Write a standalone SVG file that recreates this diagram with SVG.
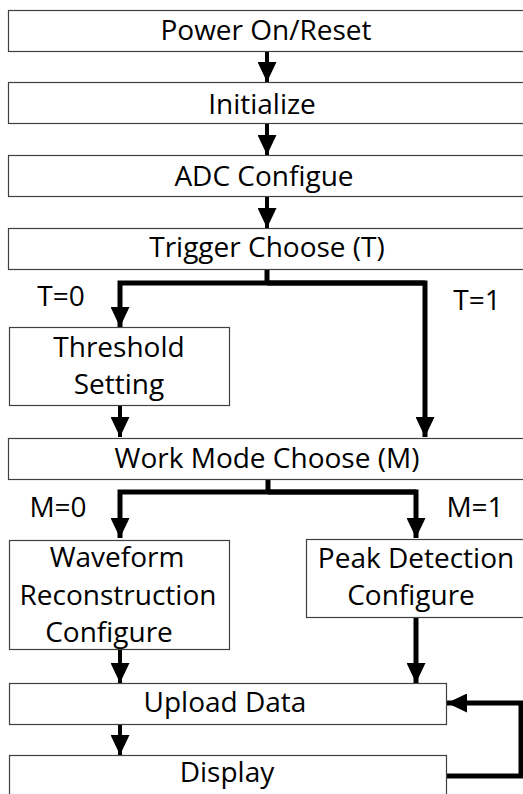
<svg xmlns="http://www.w3.org/2000/svg" width="523" height="794" viewBox="0 0 523 794">
<style>
.box{fill:#fff;stroke:#404040;stroke-width:1.2}
.t{font-family:"Open Sans","Noto Sans",sans-serif;font-size:28px;fill:#000;text-anchor:middle}
.c{stroke:#000;stroke-width:4;fill:none}
.ct{stroke:#000;stroke-width:5;fill:none}
</style>
<defs>
<marker id="ah" viewBox="0 0 20 19" refX="20" refY="9.5" markerWidth="20" markerHeight="19" markerUnits="userSpaceOnUse" orient="auto">
<path d="M0,0 L20,9.5 L0,19 Z" fill="#000"/>
</marker>
</defs>
<rect width="523" height="794" fill="#fff"/>
<g id="connectors">
<line class="c" x1="267" y1="51" x2="267" y2="82" marker-end="url(#ah)"/>
<line class="c" x1="267" y1="123" x2="267" y2="155" marker-end="url(#ah)"/>
<line class="c" x1="267" y1="196" x2="267" y2="228" marker-end="url(#ah)"/>
<polyline class="ct" points="267,269 267,283"/>
<polyline class="ct" points="425,283 120,283 120,327" marker-end="url(#ah)"/>
<polyline class="ct" points="267,283 425,283 425,437" marker-end="url(#ah)"/>
<line class="c" x1="120" y1="405" x2="120" y2="437" marker-end="url(#ah)"/>
<polyline class="ct" points="268,479 268,492"/>
<polyline class="ct" points="416,492 120,492 120,538" marker-end="url(#ah)"/>
<polyline class="ct" points="268,492 416,492 416,538" marker-end="url(#ah)"/>
<line class="c" x1="120" y1="650" x2="120" y2="683" marker-end="url(#ah)"/>
<line class="ct" x1="416" y1="617" x2="416" y2="683" marker-end="url(#ah)"/>
<line class="c" x1="120" y1="724" x2="120" y2="755" marker-end="url(#ah)"/>
<polyline class="ct" points="446,776 521,776 521,703 447,703" marker-end="url(#ah)"/>
</g>
<g id="power"><rect class="box" x="8.5" y="10.5" width="530" height="41"/><text class="t" x="266" y="40">Power On/Reset</text></g>
<g id="init"><rect class="box" x="8.5" y="82.5" width="530" height="41"/><text class="t" x="262" y="114">Initialize</text></g>
<g id="adc"><rect class="box" x="8.5" y="155.5" width="530" height="41"/><text class="t" x="264" y="186">ADC Configue</text></g>
<g id="trigger"><rect class="box" x="8.5" y="228.5" width="530" height="41"/><text class="t" x="267" y="257">Trigger Choose (T)</text></g>
<g id="threshold"><rect class="box" x="9.5" y="327.5" width="220" height="78"/><text class="t" x="119" y="357">Threshold</text><text class="t" x="119" y="394">Setting</text></g>
<g id="workmode"><rect class="box" x="8.5" y="438.5" width="530" height="41"/><text class="t" x="267" y="468">Work Mode Choose (M)</text></g>
<g id="waveform"><rect class="box" x="9.5" y="540.5" width="220" height="109"/><text class="t" x="117" y="567">Waveform</text><text class="t" x="118" y="605">Reconstruction</text><text class="t" x="109" y="642">Configure</text></g>
<g id="peak"><rect class="box" x="306.5" y="539.5" width="230" height="78"/><text class="t" x="416" y="568">Peak Detection</text><text class="t" x="411" y="605">Configure</text></g>
<g id="upload"><rect class="box" x="9.5" y="683.5" width="437" height="41"/><text class="t" x="225" y="712">Upload Data</text></g>
<g id="display"><rect class="box" x="9.5" y="755.5" width="437" height="60"/><text class="t" x="227" y="782">Display</text></g>
<g id="labels">
<text class="t" x="61" y="306">T=0</text>
<text class="t" x="477" y="310">T=1</text>
<text class="t" x="58" y="517">M=0</text>
<text class="t" x="475" y="517">M=1</text>
</g>
</svg>
